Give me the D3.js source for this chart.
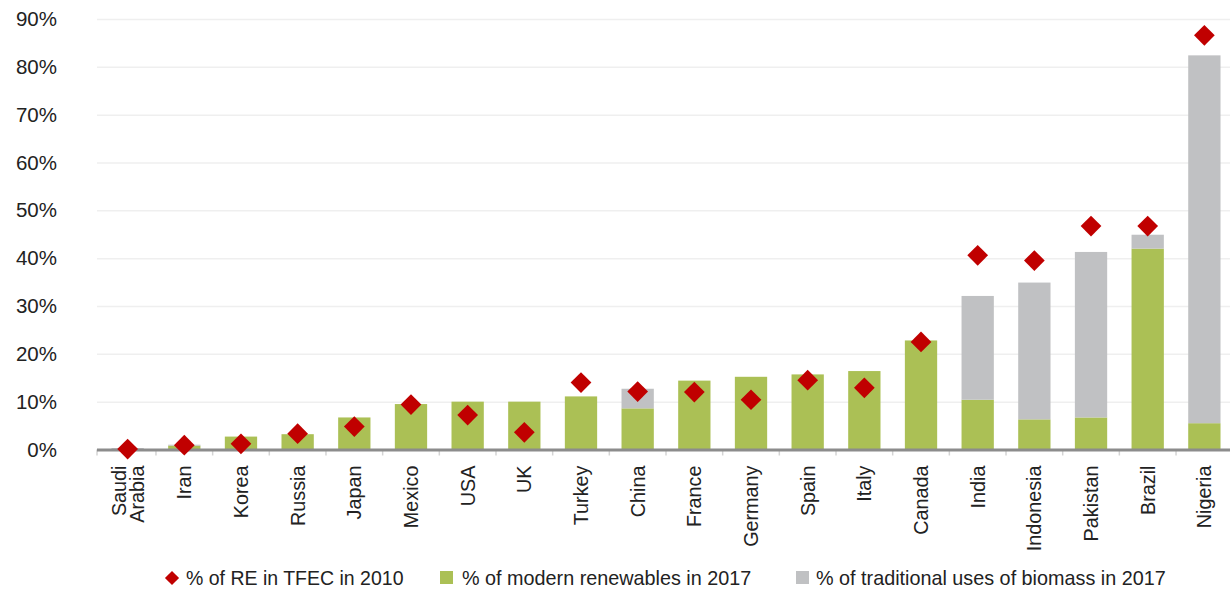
<!DOCTYPE html>
<html>
<head>
<meta charset="utf-8">
<script src="https://cdn.jsdelivr.net/npm/d3@7"></script>
<style>
  body { margin: 0; background: #fff; }
  text { font-family: "Liberation Sans", Arial, sans-serif; fill: #222; }
</style>
</head>
<body>
<div id="chart"></div>
<script>
// chart data (percent)
var countries = ["Saudi Arabia", "Iran", "Korea", "Russia", "Japan", "Mexico", "USA", "UK", "Turkey", "China",
  "France", "Germany", "Spain", "Italy", "Canada", "India", "Indonesia", "Pakistan", "Brazil", "Nigeria"];
var modern2017 = [0.0, 0.8, 2.7, 3.2, 6.7, 9.5, 10.0, 10.0, 11.1, 8.6,
  14.4, 15.2, 15.7, 16.4, 22.8, 10.4, 6.3, 6.7, 42.0, 5.5];
var traditional2017 = [0.3, 0.2, 0.0, 0.0, 0.0, 0.0, 0.0, 0.0, 0.0, 4.1,
  0.0, 0.0, 0.0, 0.0, 0.0, 21.7, 28.6, 34.6, 2.9, 76.9];
var re2010 = [0.1, 0.9, 1.2, 3.3, 4.8, 9.4, 7.2, 3.6, 14.0, 12.1,
  12.0, 10.4, 14.5, 12.9, 22.5, 40.6, 39.5, 46.7, 46.7, 86.6];
var yTicks = [0, 10, 20, 30, 40, 50, 60, 70, 80, 90];
var legendLabels = ["% of RE in TFEC in 2010", "% of modern renewables in 2017", "% of traditional uses of biomass in 2017"];

var W = 1230, H = 592;
var margins = { left: 97, right: 0, top: 19, bottom: 142.5 };
var colors = { modern: "#abc055", trad: "#c0c1c3", re: "#c00000" };

var svg = d3.select("#chart").append("svg")
  .attr("width", W)
  .attr("height", H);

// categories run a little past the right edge, like the original
var x = d3.scaleBand()
  .domain(countries)
  .range([99.3, 1232.7])
  .paddingInner(0.43)
  .paddingOuter(0.215);

var y = d3.scaleLinear()
  .domain([0, 90])
  .range([H - margins.bottom, margins.top]);

// gridlines + y labels
var yAxis = svg.append("g")
  .attr("transform", "translate(" + margins.left + ",0)")
  .call(d3.axisLeft(y).tickValues(yTicks).tickFormat(function(d) { return d + "%"; })
    .tickSize(-(W - margins.left - margins.right)).tickPadding(40));
yAxis.select(".domain").remove();
yAxis.selectAll(".tick line").attr("stroke", "#efefef").attr("stroke-width", 1.5);
yAxis.selectAll(".tick text").attr("font-size", "20.5px").attr("fill", "#222")
  .style("font-family", "'Liberation Sans', Arial, sans-serif");

// stacked bars
var rows = countries.map(function(c, i) {
  return { name: c, modern: modern2017[i], trad: traditional2017[i], re: re2010[i] };
});

svg.append("g").selectAll("rect.modern")
  .data(rows)
  .enter().append("rect")
  .attr("class", "modern")
  .attr("x", function(d) { return x(d.name); })
  .attr("width", x.bandwidth())
  .attr("y", function(d) { return y(d.modern); })
  .attr("height", function(d) { return y(0) - y(d.modern); })
  .attr("fill", colors.modern);

svg.append("g").selectAll("rect.trad")
  .data(rows)
  .enter().append("rect")
  .attr("class", "trad")
  .attr("x", function(d) { return x(d.name); })
  .attr("width", x.bandwidth())
  .attr("y", function(d) { return y(d.modern + d.trad); })
  .attr("height", function(d) { return y(d.modern) - y(d.modern + d.trad); })
  .attr("fill", colors.trad);

// x axis line and boundary ticks
var step = x.step();
var y0 = y(0);
var x0 = x.range()[0];
svg.append("g").selectAll("line.tick")
  .data(d3.range(countries.length + 1))
  .enter().append("line")
  .attr("x1", function(i) { return i === 0 ? margins.left : x0 + i * step; })
  .attr("x2", function(i) { return i === 0 ? margins.left : x0 + i * step; })
  .attr("y1", y0)
  .attr("y2", y0 + 6)
  .attr("stroke", "#d4d4d4")
  .attr("stroke-width", 1.5);

svg.append("line")
  .attr("x1", margins.left)
  .attr("x2", W - margins.right)
  .attr("y1", y0 + 0.5)
  .attr("y2", y0 + 0.5)
  .attr("stroke", "#8c8c8c")
  .attr("stroke-width", 3);

// diamonds for 2010
var diamond = d3.symbol().type(d3.symbolSquare).size(215);
svg.append("g").selectAll("path.re")
  .data(rows)
  .enter().append("path")
  .attr("class", "re")
  .attr("d", diamond)
  .attr("transform", function(d) {
    return "translate(" + (x(d.name) + x.bandwidth() / 2) + "," + y(d.re) + ") rotate(45)";
  })
  .attr("fill", colors.re);

// category labels, rotated
var labels = svg.append("g").selectAll("text.cat")
  .data(rows)
  .enter().append("text")
  .attr("class", "cat")
  .attr("font-size", "19.8px")
  .attr("text-anchor", "end")
  .attr("transform", function(d) {
    return "translate(" + (x(d.name) + x.bandwidth() / 2) + "," + (y0 + 16) + ") rotate(-90)";
  });

labels.each(function(d) {
  var parts = d.name.split(" ");
  var t = d3.select(this);
  parts.forEach(function(p, j) {
    t.append("tspan")
      .attr("x", 0)
      .attr("y", (j - (parts.length - 1) / 2) * 18)
      .attr("dy", "0.35em")
      .text(p);
  });
});

// legend
var legY = 578;
var leg = svg.append("g");
leg.append("path")
  .attr("d", d3.symbol().type(d3.symbolSquare).size(100))
  .attr("transform", "translate(172," + legY + ") rotate(45)")
  .attr("fill", colors.re);
leg.append("text").attr("x", 186).attr("y", legY).attr("dy", "0.35em")
  .attr("font-size", "19.5px").text(legendLabels[0]);

leg.append("rect").attr("x", 440).attr("y", legY - 7).attr("width", 13).attr("height", 13)
  .attr("fill", colors.modern);
leg.append("text").attr("x", 462).attr("y", legY).attr("dy", "0.35em")
  .attr("font-size", "19.8px").text(legendLabels[1]);

leg.append("rect").attr("x", 796).attr("y", legY - 7).attr("width", 13).attr("height", 13)
  .attr("fill", colors.trad);
leg.append("text").attr("x", 816).attr("y", legY).attr("dy", "0.35em")
  .attr("font-size", "19.8px").text(legendLabels[2]);
</script>
</body>
</html>
